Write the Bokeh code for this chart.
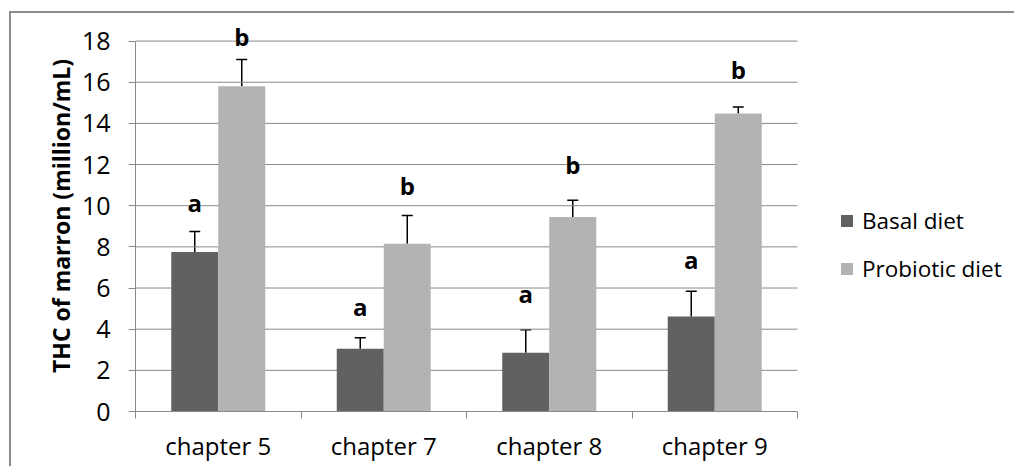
from bokeh.plotting import figure
from bokeh.models import (Range1d, FixedTicker, ColumnDataSource, Whisker, TeeHead,
                          Legend, LegendItem, LabelSet)
from bokeh.core.properties import value
from bokeh.embed import file_html
from bokeh.resources import INLINE

# ---- data ----
categories = ["chapter 5", "chapter 7", "chapter 8", "chapter 9"]
series_names = ["Basal diet", "Probiotic diet"]
basal = [7.75, 3.05, 2.85, 4.62]
basal_err = [1.0, 0.53, 1.12, 1.22]
probiotic = [15.8, 8.15, 9.45, 14.48]
probiotic_err = [1.3, 1.38, 0.81, 0.32]
basal_letters = ["a", "a", "a", "a"]
probiotic_letters = ["b", "b", "b", "b"]
basal_letter_y = [9.69, 4.62, 5.27, 6.92]
probiotic_letter_y = [17.75, 10.5, 11.53, 16.15]
y_ticks = [0, 2, 4, 6, 8, 10, 12, 14, 16, 18]

FONT = "Open Sans"
GRID = "#898989"
DARK = "#616161"
LIGHT = "#b3b3b3"

n = len(categories)
centers = [i + 0.5 for i in range(n)]
bw = 0.284
off = bw / 2

# layout (pixels)
W, H = 1005, 455
LEFT, TOP, BOTTOM = 124, 7, 57
CAT_PX = 165.5                      # width of one category slot
x_end = (W - LEFT) / CAT_PX         # frame extends right to hold the legend

src_b = ColumnDataSource(dict(
    x=[c - off for c in centers], top=basal,
    upper=[v + e for v, e in zip(basal, basal_err)],
    ly=basal_letter_y, lt=basal_letters))
src_p = ColumnDataSource(dict(
    x=[c + off for c in centers], top=probiotic,
    upper=[v + e for v, e in zip(probiotic, probiotic_err)],
    ly=probiotic_letter_y, lt=probiotic_letters))

p = figure(width=W, height=H, output_backend="svg", toolbar_location=None,
           x_range=Range1d(0, x_end), y_range=Range1d(0, 19),
           min_border_left=LEFT, min_border_right=0, min_border_top=TOP,
           min_border_bottom=BOTTOM)
p.styles = {"border-top": "2px solid #8c8c8c", "border-left": "2px solid #8c8c8c",
            "margin-top": "11px", "margin-left": "9px"}
p.outline_line_color = None
p.background_fill_color = "white"
p.border_fill_color = "white"

# grid lines (drawn only across the category area)
p.xgrid.grid_line_color = None
p.ygrid.grid_line_color = None
p.segment(x0=0, x1=n, y0=y_ticks, y1=y_ticks, line_color=GRID, line_width=1)

# y axis
p.yaxis.ticker = FixedTicker(ticks=y_ticks)
p.yaxis.bounds = (0, 18)
p.yaxis.axis_line_color = GRID
p.yaxis.major_tick_line_color = GRID
p.yaxis.major_tick_out = 7
p.yaxis.major_tick_in = 0
p.yaxis.minor_tick_line_color = None
p.yaxis.major_label_text_font = FONT
p.yaxis.major_label_text_font_size = "25px"
p.yaxis.major_label_text_color = "black"
p.yaxis.major_label_standoff = 18
p.yaxis.axis_label = "THC of marron (million/mL)"
p.yaxis.axis_label_text_font = FONT
p.yaxis.axis_label_text_font_size = "23px"
p.yaxis.axis_label_text_font_style = "bold"
p.yaxis.axis_label_text_color = "black"
p.yaxis.axis_label_standoff = 2

# x axis: labels at category centres, ticks at boundaries
p.xaxis.ticker = FixedTicker(ticks=centers, minor_ticks=list(range(n + 1)))
p.xaxis.bounds = (0, n)
p.xaxis.major_label_overrides = {c: cat for c, cat in zip(centers, categories)}
p.xaxis.axis_line_color = GRID
p.xaxis.major_tick_line_color = None
p.xaxis.major_tick_out = 7
p.xaxis.major_tick_in = 0
p.xaxis.minor_tick_line_color = GRID
p.xaxis.minor_tick_out = 7
p.xaxis.minor_tick_in = 0
p.xaxis.major_label_text_font = FONT
p.xaxis.major_label_text_font_size = "24px"
p.xaxis.major_label_text_color = "black"
p.xaxis.major_label_standoff = 10

# bars
rb = p.vbar(x="x", top="top", width=bw, bottom=0, source=src_b,
            fill_color=DARK, line_color=None)
rp = p.vbar(x="x", top="top", width=bw, bottom=0, source=src_p,
            fill_color=LIGHT, line_color=None)

# error bars (upper only)
for src in (src_b, src_p):
    w = Whisker(base="x", lower="top", upper="upper", source=src,
                line_color="black", line_width=1.5,
                upper_head=TeeHead(size=11, line_color="black", line_width=1.5),
                lower_head=None)
    p.add_layout(w)

# significance letters
for src in (src_b, src_p):
    ls = LabelSet(x="x", y="ly", text="lt", source=src, text_align="center",
                  text_baseline="alphabetic", text_font=value(FONT),
                  text_font_size=value("24px"), text_font_style="bold",
                  text_color="black")
    p.add_layout(ls)

legend = Legend(items=[LegendItem(label=series_names[0], renderers=[rb]),
                       LegendItem(label=series_names[1], renderers=[rp])],
                location=(704, 127), glyph_width=15, glyph_height=15,
                label_height=25, spacing=17, label_standoff=8, padding=0, margin=0,
                border_line_color=None, background_fill_alpha=0,
                label_text_font=FONT, label_text_font_size="22.5px",
                label_text_color="black")
p.add_layout(legend)

open("out.html", "w").write(file_html(p, INLINE))
